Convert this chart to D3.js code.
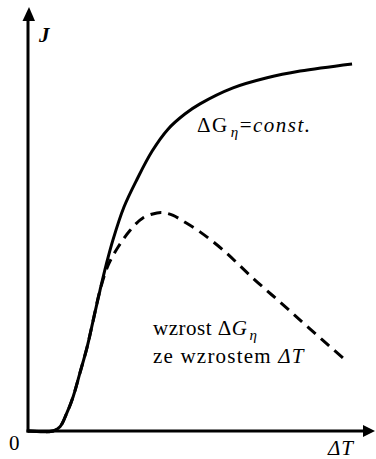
<!DOCTYPE html>
<html>
<head>
<meta charset="utf-8">
<script src="https://cdn.jsdelivr.net/npm/d3@7"></script>
<style>
  html, body { margin: 0; padding: 0; background: #fff; }
  svg { display: block; }
</style>
</head>
<body>
<svg id="chart" width="376" height="459"></svg>
<script>
// ΔT values (arbitrary units) and nucleation rate J for constant ΔGη
const solidT = [0, 0.73, 0.93, 1.13, 1.31, 1.51, 1.72, 1.89, 2.09, 2.27, 2.47, 2.79, 3.17, 3.61, 4.07, 4.56, 5.00, 5.96, 6.95, 7.91, 9.42];
const solidJ = [0, 0, 0.10, 0.43, 0.81, 1.38, 2.00, 2.61, 3.33, 3.94, 4.54, 5.32, 5.98, 6.65, 7.17, 7.53, 7.77, 8.15, 8.39, 8.55, 8.72];

// J when ΔGη grows together with ΔT
const dashT = [0, 0.73, 0.93, 1.13, 1.31, 1.51, 1.72, 1.89, 2.09, 2.33, 2.62, 2.97, 3.34, 3.75, 3.98, 4.22, 4.56, 5.00, 5.67, 6.54, 7.33, 8.11, 9.16];
const dashJ = [0, 0, 0.10, 0.43, 0.81, 1.38, 2.00, 2.61, 3.33, 3.94, 4.37, 4.77, 5.06, 5.18, 5.18, 5.12, 4.96, 4.73, 4.30, 3.63, 3.06, 2.49, 1.73];

const xDomain = [0, 10];
const yDomain = [0, 10];

const FONT = "Liberation Serif, Tinos, Times New Roman, Times, DejaVu Serif, serif";

const svg = d3.select("#chart");
const x = d3.scaleLinear().domain(xDomain).range([28, 372]);
const y = d3.scaleLinear().domain(yDomain).range([431, 10]);

const x0 = x(0), y0 = y(0);

// axes with arrowheads
svg.append("line")
  .attr("x1", x0).attr("y1", y0 + 1.5)
  .attr("x2", x0).attr("y2", 18)
  .attr("stroke", "#000").attr("stroke-width", 3);
svg.append("path")
  .attr("d", `M${x0 + 1},7 L${x0 - 5.5},21 L${x0 + 7},21 Z`)
  .attr("fill", "#000");

svg.append("line")
  .attr("x1", x0 - 1.5).attr("y1", y0)
  .attr("x2", 366).attr("y2", y0)
  .attr("stroke", "#000").attr("stroke-width", 3);
svg.append("path")
  .attr("d", `M375,${y0} L363,${y0 - 6} L363,${y0 + 6} Z`)
  .attr("fill", "#000");

const line = d3.line()
  .x(d => x(d[0]))
  .y(d => y(d[1]))
  .curve(d3.curveCatmullRom.alpha(0.5));

svg.append("path")
  .datum(dashT.map((t, i) => [t, dashJ[i]]))
  .attr("d", line)
  .attr("fill", "none")
  .attr("stroke", "#000")
  .attr("stroke-width", 3)
  .attr("stroke-dasharray", "11,7");

svg.append("path")
  .datum(solidT.map((t, i) => [t, solidJ[i]]))
  .attr("d", line)
  .attr("fill", "none")
  .attr("stroke", "#000")
  .attr("stroke-width", 3);

// labels
function label(xp, yp) {
  return svg.append("text")
    .attr("x", xp).attr("y", yp)
    .style("font-family", FONT)
    .attr("font-size", 21)
    .attr("fill", "#000");
}

label(39, 42).attr("font-weight", "bold").attr("font-style", "italic").text("J");
label(9, 450).text("0");
label(328, 455).attr("font-style", "italic").style("letter-spacing", "1px").text("ΔT");

const t1 = label(197, 132).style("letter-spacing", "1.5px");
t1.append("tspan").text("ΔG");
t1.append("tspan").attr("font-style", "italic").attr("font-size", 15).attr("dy", 5).attr("dx", 2).text("η");
t1.append("tspan").attr("dy", -5).text("=");
t1.append("tspan").attr("font-style", "italic").text("const.");

const t2 = label(153, 335).style("letter-spacing", "0.5px");
t2.append("tspan").text("wzrost Δ");
t2.append("tspan").attr("font-style", "italic").text("G");
t2.append("tspan").attr("font-style", "italic").attr("font-size", 15).attr("dy", 5).attr("dx", 2).text("η");

const t3 = label(153, 363).style("letter-spacing", "1.2px");
t3.append("tspan").text("ze wzrostem ");
t3.append("tspan").attr("font-style", "italic").text("ΔT");
</script>
</body>
</html>
